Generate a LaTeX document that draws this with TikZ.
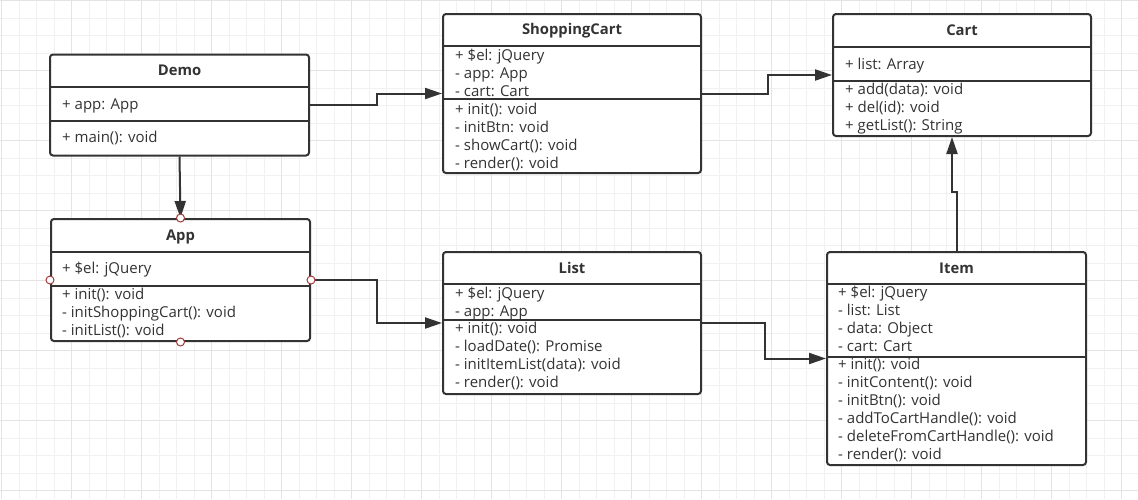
\documentclass[tikz,border=0pt]{standalone}
\usepackage{fontspec}
\setmainfont{Open Sans}
\usetikzlibrary{arrows.meta}
\definecolor{ink}{HTML}{333333}
\definecolor{gridminor}{HTML}{F1F1F1}
\definecolor{gridmajor}{HTML}{E4E4E4}
\definecolor{handlered}{HTML}{A53A3A}

\begin{document}
\begin{tikzpicture}[x=1pt,y=-1pt,
    classbox/.style={draw=ink,line width=2pt,rounded corners=3pt,fill=white,anchor=north west,inner sep=0pt},
    ctitle/.style={font=\fontsize{14.8}{18}\selectfont\bfseries,text=ink,inner sep=0pt,text height=11pt,text depth=1pt},
    member/.style={font=\fontsize{15}{18}\selectfont,text=ink,anchor=west,inner sep=0pt,text height=11pt,text depth=1pt},
    divider/.style={draw=ink,line width=2pt},
    conn/.style={draw=ink,line width=2pt,-{Triangle[length=17pt,width=11pt]}},
    handle/.style={circle,draw=handlered,fill=white,line width=1pt,minimum size=8pt,inner sep=0pt}]
  \useasboundingbox (0,0) rectangle (1138,499);
  \fill[white] (0,0) rectangle (1138,499);
  \foreach \x in {1.7,19.2,...,1138} \draw[gridminor,line width=1pt] (\x,0) -- (\x,499);
  \foreach \y in {0.7,18.2,...,499} \draw[gridminor,line width=1pt] (0,\y) -- (1138,\y);
  \foreach \x in {1.7,71.7,...,1138} \draw[gridmajor,line width=1.5pt] (\x,0) -- (\x,499);
  \foreach \y in {0.7,70.7,...,499} \draw[gridmajor,line width=1.5pt] (0,\y) -- (1138,\y);

  \node[classbox,minimum width=259pt,minimum height=101pt] (demo) at (49,53.5) {};
  \node[classbox,minimum width=259pt,minimum height=122pt] (app) at (50,218) {};
  \node[classbox,minimum width=258pt,minimum height=159pt] (shopcart) at (442,13) {};
  \node[classbox,minimum width=258pt,minimum height=122pt] (cart) at (832,13) {};
  \node[classbox,minimum width=258pt,minimum height=142pt] (list) at (442,251) {};
  \node[classbox,minimum width=259pt,minimum height=213pt] (item) at (826,251) {};

  \foreach \n/\a/\b in {demo/87/121,app/252/286,shopcart/46/99,cart/47/81,list/284/320,item/284/357}
  {
    \draw[divider] (\n.west |- 0,\a) -- (\n.east |- 0,\a);
    \draw[divider] (\n.west |- 0,\b) -- (\n.east |- 0,\b);
  }

  \node[ctitle] (demo-t) at (demo.north |- 0,70) {Demo};
  \node[ctitle] (app-t) at (app.north |- 0,235) {App};
  \node[ctitle] (shopcart-t) at (shopcart.north |- 0,29) {ShoppingCart};
  \node[ctitle] (cart-t) at (cart.north |- 0,30) {Cart};
  \node[ctitle] (list-t) at (list.north |- 0,268) {List};
  \node[ctitle] (item-t) at (item.north |- 0,268) {Item};

  \node[member] (demo-a0) at (62,104) {+ app: App};
  \node[member] (demo-m0) at (62,137) {+ main(): void};

  \node[member] (app-a0) at (62,268) {+ \$el: jQuery};
  \foreach \t [count=\i from 0] in {+ init(): void,- initShoppingCart(): void,- initList(): void}
    \node[member] (app-m\i) at (62,294+18*\i) {\t};

  \foreach \t [count=\i from 0] in {+ \$el: jQuery,- app: App,- cart: Cart}
    \node[member] (shopcart-a\i) at (455,55+18*\i) {\t};
  \foreach \t [count=\i from 0] in {+ init(): void,- initBtn: void,- showCart(): void,- render(): void}
    \node[member] (shopcart-m\i) at (455,109+18*\i) {\t};

  \node[member] (cart-a0) at (845,64) {+ list: Array};
  \foreach \t [count=\i from 0] in {+ add(data): void,+ del(id): void,+ getList(): String}
    \node[member] (cart-m\i) at (845,89+18*\i) {\t};

  \foreach \t [count=\i from 0] in {+ \$el: jQuery,- app: App}
    \node[member] (list-a\i) at (455,293+18*\i) {\t};
  \foreach \t [count=\i from 0] in {+ init(): void,- loadDate(): Promise,- initItemList(data): void,- render(): void}
    \node[member] (list-m\i) at (455,328+18*\i) {\t};

  \foreach \t [count=\i from 0] in {+ \$el: jQuery,- list: List,- data: Object,- cart: Cart}
    \node[member] (item-a\i) at (838,292+18*\i) {\t};
  \foreach \t [count=\i from 0] in {+ init(): void,- initContent(): void,- initBtn(): void,- addToCartHandle(): void,- deleteFromCartHandle(): void,- render(): void}
    \node[member] (item-m\i) at (838,364+18*\i) {\t};

  \draw[conn] (demo.east) -- ++(67,0) |- (shopcart.west);
  \draw[conn] (shopcart.east) -- ++(66,0) |- (cart.west);
  \draw[conn] (demo.south) -- (app.north);
  \draw[conn] (app.east) -- ++(66,0) |- (list.west);
  \draw[conn] (list.east) -- ++(63,0) |- (item.west);
  \draw[conn] (item.north) -- ++(0,-59) -| ([xshift=-10pt]cart.south);

  \node[handle] (app-hn) at (app.north) {};
  \node[handle] (app-hw) at (app.west) {};
  \node[handle] (app-he) at (app.east) {};
  \node[handle] (app-hs) at (app.south) {};
\end{tikzpicture}
\end{document}
